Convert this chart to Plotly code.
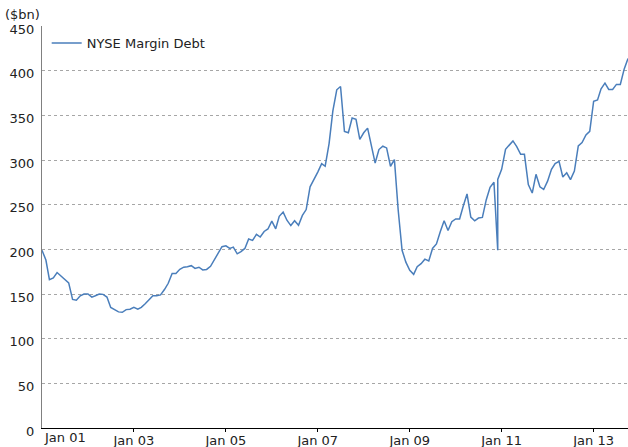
import plotly.graph_objects as go
import pandas as pd

# monthly NYSE margin debt, $bn (Jan 2001 .. Oct 2013)
months = pd.date_range("2001-01-01", "2013-10-01", freq="MS")

debt = [
    199, 188, 166, 168, 174, 170, 165.5, 162.5, 144, 143, 148, 150,      # 2001
    150, 146.5, 148, 150, 149.6, 146.6, 135, 132, 130, 129.5, 132.5, 133,  # 2002
    135, 133, 135, 139, 143.5, 148, 148, 149, 155, 162, 173, 173,        # 2003
    177.6, 180, 180.6, 181.7, 178.7, 180, 177, 177.5, 181, 188, 196.4, 203,  # 2004
    204, 201, 202.5, 195, 197.5, 201, 211.5, 210, 216.8, 213.8, 220, 222.8,  # 2005
    231.5, 223, 237, 241.7, 232.6, 226.6, 232, 227, 238, 244.5, 270, 277.5,  # 2006
    286.5, 296, 293, 318.4, 355, 378.6, 382.3, 332, 330.5, 347, 345.5, 323,  # 2007
    330.5, 335.7, 317, 296.6, 311.7, 315.4, 313.5, 293, 300.4, 244, 199, 185.7,  # 2008
    176.5, 172, 180.5, 184, 189, 187, 201, 206, 220, 232, 221, 231,      # 2009
    234, 234, 248, 262, 236, 232, 235, 235.7, 255.6, 269.5, 275, 278.2,  # 2010
    289.5, 312, 316.5, 321.4, 315, 306.4, 306.4, 272.5, 263, 284, 270, 267,  # 2011
    276.3, 289.5, 296, 298.5, 281, 285.7, 278, 287.6, 315.8, 319.5, 328, 332,  # 2012
    365.8, 367.3, 379.7, 386, 379, 379, 384.6, 384.6, 402, 413.5,       # 2013
]

# a duplicate Dec 2010 entry in the source data shows as a spike
glitch_date = "2010-12-01"
glitch_value = 199

dates = list(months)
values = list(debt)
i = dates.index(pd.Timestamp(glitch_date))
dates.insert(i, pd.Timestamp(glitch_date))
values.insert(i, glitch_value)

tick_dates = ["2003-01-01", "2005-01-01", "2007-01-01", "2009-01-01", "2011-01-01", "2013-01-01"]
tick_labels = ["Jan 03", "Jan 05", "Jan 07", "Jan 09", "Jan 11", "Jan 13"]

font = "DejaVu Sans, Verdana, sans-serif"

fig = go.Figure()
fig.add_trace(go.Scatter(
    x=dates, y=values, mode="lines", name="NYSE Margin Debt",
    line=dict(color="#4A7EBB", width=1.5),
))

fig.update_layout(
    width=628, height=447,
    paper_bgcolor="white", plot_bgcolor="white",
    margin=dict(l=42, r=0, t=26, b=19),
    font=dict(family=font, size=13, color="#222222"),
    showlegend=True,
    legend=dict(x=0.008, y=0.995, xanchor="left", yanchor="top",
                bgcolor="rgba(0,0,0,0)", font=dict(size=13),
                itemwidth=30),
    annotations=[
        dict(text="($bn)", xref="paper", yref="paper", x=-0.066, y=1.0,
             xanchor="left", yanchor="bottom", showarrow=False, yshift=2,
             font=dict(size=13)),
        dict(text="Jan 01", xref="x", yref="paper", x="2001-01-01", y=0,
             xanchor="left", yanchor="top", showarrow=False, yshift=0,
             font=dict(size=13)),
    ],
)

fig.update_xaxes(
    type="date", range=["2001-01-01", "2013-10-01"],
    tickvals=tick_dates, ticktext=tick_labels,
    showline=True, linecolor="#000000", linewidth=1,
    ticks="outside", ticklen=3, tickcolor="#000000",
    ticklabelstandoff=-3,
    showgrid=False, zeroline=False, automargin=False,
)
fig.update_yaxes(
    range=[0, 450], dtick=50,
    showline=True, linecolor="#808080", linewidth=1,
    showgrid=True, gridcolor="#A6A6A6", griddash="3px,3px", gridwidth=1,
    zeroline=False, ticks="", ticklabelstandoff=4, ticklabelshift=3,
    automargin=False,
)

fig.write_html("out.html", config={"displayModeBar": False},
               post_script="document.body.style.margin='0px';")
